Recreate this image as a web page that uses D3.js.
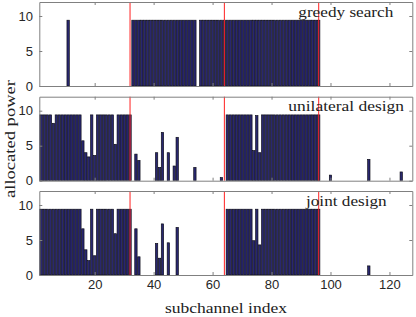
<!DOCTYPE html>
<html>
<head>
<meta charset="utf-8">
<script src="https://cdn.jsdelivr.net/npm/d3@7"></script>
<style>
  html, body { margin: 0; padding: 0; background: #fff; }
  svg { display: block; }
</style>
</head>
<body>
<div id="chart"></div>
<script>
// allocated power per subchannel (index 1..128)
const greedy = [
  0, 0, 0, 0, 0, 0, 0, 0, 0, 0, 9.4, 0, 0, 0, 0, 0,
  0, 0, 0, 0, 0, 0, 0, 0, 0, 0, 0, 0, 0, 0, 0, 0,
  9.4, 9.4, 9.4, 9.4, 9.4, 9.4, 9.4, 9.4, 9.4, 9.4, 9.4, 9.4, 9.4, 9.4, 9.4, 9.4,
  9.4, 9.4, 9.4, 9.4, 9.4, 9.4, 0, 9.4, 9.4, 9.4, 9.4, 9.4, 9.4, 9.4, 9.4, 9.4,
  9.4, 9.4, 9.4, 9.4, 9.4, 9.4, 9.4, 9.4, 9.4, 9.4, 9.4, 9.4, 9.4, 9.4, 9.4, 9.4,
  9.4, 9.4, 9.4, 9.4, 9.4, 9.4, 9.4, 9.4, 9.4, 9.4, 9.4, 9.4, 9.4, 9.4, 9.4, 9.4,
  0, 0, 0, 0, 0, 0, 0, 0, 0, 0, 0, 0, 0, 0, 0, 0,
  0, 0, 0, 0, 0, 0, 0, 0, 0, 0, 0, 0, 0, 0, 0, 0
];
const unilateral = [
  9.4, 9.4, 9.4, 9.4, 9.4, 8.2, 9.4, 9.4, 9.4, 9.4, 9.4, 9.4, 9.4, 9.4, 9.4, 5.7,
  4.0, 3.4, 9.4, 3.6, 9.4, 9.4, 9.4, 9.4, 9.4, 9.4, 5.2, 9.4, 9.4, 9.4, 9.4, 9.4,
  0, 3.8, 2.9, 0, 0, 0, 0, 0, 4.0, 1.9, 6.9, 0, 4.0, 0, 2.1, 6.2,
  0, 0, 0, 0, 0, 1.9, 0, 0, 0, 0, 0, 0, 0, 0, 0.45, 0,
  9.4, 9.4, 9.4, 9.4, 9.4, 9.4, 9.4, 9.4, 9.4, 4.3, 9.3, 4.0, 9.4, 9.4, 9.4, 9.4,
  9.4, 9.4, 9.4, 9.4, 9.4, 9.4, 9.4, 9.4, 9.4, 9.4, 9.4, 9.4, 9.4, 9.4, 9.4, 9.4,
  0, 0, 0, 0.8, 0, 0, 0, 0, 0, 0, 0, 0, 0, 0, 0, 0,
  3.05, 0, 0, 0, 0, 0, 0, 0, 0, 0, 0, 1.25, 0, 0, 0, 0
];
const joint = [
  9.4, 9.4, 9.4, 9.4, 9.4, 9.4, 9.4, 9.4, 9.4, 9.4, 9.4, 9.4, 9.4, 9.4, 9.4, 6.6,
  3.6, 2.05, 9.4, 2.75, 9.4, 9.4, 9.4, 9.4, 9.4, 9.4, 5.9, 9.4, 9.4, 9.4, 9.4, 9.4,
  0, 6.6, 2.6, 0, 0, 0, 0, 0, 4.5, 2.4, 7.3, 0, 4.6, 0, 0, 6.8,
  0, 0, 0, 0, 0, 0, 0, 0, 0, 0, 0, 0, 0, 0, 0, 0,
  9.4, 9.4, 9.4, 9.4, 9.4, 9.4, 9.4, 9.4, 9.4, 4.9, 9.4, 4.3, 9.4, 9.4, 9.4, 9.4,
  9.4, 9.4, 9.4, 9.4, 9.4, 9.4, 9.4, 9.4, 9.4, 9.4, 9.4, 9.4, 9.4, 9.4, 9.4, 9.4,
  0, 0, 0, 0, 0, 0, 0, 0, 0, 0, 0, 0, 0, 0, 0, 0,
  1.3, 0, 0, 0, 0, 0, 0, 0, 0, 0, 0, 0, 0, 0, 0, 0
];
const panelTitles = ["greedy search", "unilateral design", "joint design"];
const xTicks = [20, 40, 60, 80, 100, 120];
const yTicks = [0, 5, 10];
const boundaries = [32, 64, 96];

const W = 416, H = 317;
const left = 39.3, right = 412.3;
const panelTop = [2, 96.7, 191];
const panelH = 84;
const titleEnd = [393.3, 404, 386.7];
const titleBase = [17.3, 110.7, 206];
const titleLen = [95, 115.7, 80.7];

const svg = d3.select("#chart").append("svg")
  .attr("width", W).attr("height", H);

const x = d3.scaleLinear().domain([1.22, 127.75]).range([left, right]);
const barW = x(0.8) - x(0);

[greedy, unilateral, joint].forEach((series, i) => {
  const top = panelTop[i];
  const y = d3.scaleLinear().domain([0, 12]).range([top + panelH, top]);
  const g = svg.append("g");

  g.append("clipPath").attr("id", "clip" + i)
    .append("rect")
    .attr("x", left).attr("y", top)
    .attr("width", right - left).attr("height", panelH);

  const data = series.map((v, k) => ({ k: k + 1, v })).filter(d => d.v > 0);

  g.append("g").attr("clip-path", `url(#clip${i})`)
    .selectAll("rect")
    .data(data)
    .enter()
    .append("rect")
    .attr("x", d => x(d.k) - barW / 2)
    .attr("y", d => y(d.v))
    .attr("width", barW)
    .attr("height", d => y(0) - y(d.v))
    .attr("fill", "#29276f")
    .attr("stroke", "#0a0a14")
    .attr("stroke-width", 0.65);

  // red group boundaries
  g.selectAll("line.bnd")
    .data(boundaries)
    .enter()
    .append("line")
    .attr("x1", d => x(d)).attr("x2", d => x(d))
    .attr("y1", top).attr("y2", top + panelH)
    .attr("stroke", "#ff2020")
    .attr("stroke-width", 1);

  // axes, inward ticks on all sides
  const bottom = g.append("g").attr("transform", `translate(0,${top + panelH})`)
    .call(d3.axisBottom(x).tickValues(xTicks).tickSizeInner(-3).tickSizeOuter(0)
      .tickFormat(i === 2 ? d3.format("d") : ""));
  const topAx = g.append("g").attr("transform", `translate(0,${top})`)
    .call(d3.axisTop(x).tickValues(xTicks).tickSizeInner(-3).tickSizeOuter(0).tickFormat(""));
  const leftAx = g.append("g").attr("transform", `translate(${left},0)`)
    .call(d3.axisLeft(y).tickValues(yTicks).tickSizeInner(-3).tickSizeOuter(0).tickPadding(6));
  const rightAx = g.append("g").attr("transform", `translate(${right},0)`)
    .call(d3.axisRight(y).tickValues(yTicks).tickSizeInner(-3).tickSizeOuter(0).tickFormat(""));

  [bottom, topAx, leftAx, rightAx].forEach(a => {
    a.select(".domain").attr("stroke", "#808080");
    a.selectAll(".tick line").attr("stroke", "#808080");
    a.selectAll(".tick text")
      .attr("font-family", "Liberation Sans, Arial, sans-serif")
      .attr("font-size", 13)
      .attr("fill", "#262626");
  });
  bottom.selectAll(".tick text").attr("dy", "0.6em").attr("y", 6);
  leftAx.selectAll(".tick text").attr("x", -6.3);

  g.append("text")
    .attr("x", titleEnd[i]).attr("y", titleBase[i])
    .attr("text-anchor", "end")
    .attr("font-family", "Liberation Serif, Times New Roman, serif")
    .attr("font-size", 15)
    .attr("textLength", titleLen[i])
    .attr("lengthAdjust", "spacingAndGlyphs")
    .attr("fill", "#222")
    .text(panelTitles[i]);
});

svg.append("text")
  .attr("x", 226).attr("y", 313)
  .attr("text-anchor", "middle")
  .attr("font-family", "Liberation Serif, Times New Roman, serif")
  .attr("font-size", 15)
  .attr("textLength", 122)
  .attr("lengthAdjust", "spacingAndGlyphs")
  .attr("fill", "#222")
  .text("subchannel index");

svg.append("text")
  .attr("transform", "translate(15,139) rotate(-90)")
  .attr("text-anchor", "middle")
  .attr("font-family", "Liberation Serif, Times New Roman, serif")
  .attr("font-size", 15)
  .attr("textLength", 118)
  .attr("lengthAdjust", "spacingAndGlyphs")
  .attr("fill", "#222")
  .text("allocated power");
</script>
</body>
</html>
